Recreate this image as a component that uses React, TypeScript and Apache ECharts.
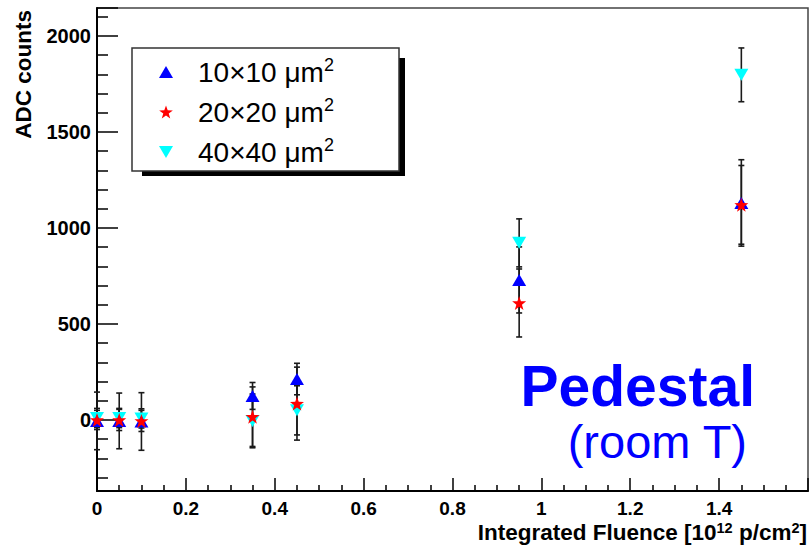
import React, { useEffect, useRef } from "react";
import * as echarts from "echarts";

const fluence = [0, 0.05, 0.1, 0.35, 0.45, 0.95, 1.45];
const adc10 = [-5, -5, -8, 125, 213, 729, 1130];
const err10 = [150, 145, 150, 70, 82, 172, 225];
const adc20 = [0, 0, -5, 17, 85, 609, 1120];
const err20 = [50, 55, 55, 155, 190, 177, 205];
const adc40 = [10, 10, 8, -5, 50, 922, 1797];
const err40 = [50, 50, 50, 140, 128, 125, 140];

const seriesNames = ["10x10", "20x20", "40x40"];
const legendLabels = ["10×10 μm{sup|2}", "20×20 μm{sup|2}", "40×40 μm{sup|2}"];
const xTitle = "Integrated Fluence [10{sup|12} p/cm{sup|2}]";
const yTitle = "ADC counts";
const noteMain = "Pedestal";
const noteSub = "(room T)";

const FONT = "'Liberation Sans', Arial, Helvetica, sans-serif";
const TRI_UP = "path://M50,0L100,86L0,86Z";
const TRI_DOWN = "path://M0,0L100,0L50,86Z";
const STAR =
  "path://M50,0L61.8,33.8L97.6,34.5L69,56.2L79.4,90.5L50,70L20.6,90.5L31,56.2L2.4,34.5L38.2,33.8Z";

function pts(xs: number[], ys: number[]) {
  return xs.map((x, i) => [x, ys[i]]);
}
function errPts(xs: number[], ys: number[], es: number[]) {
  return xs.map((x, i) => [x, ys[i], es[i]]);
}

function errSeries(name: string, data: number[][]) {
  return {
    type: "custom",
    name,
    z: 1,
    encode: { x: 0, y: 1 },
    data,
    renderItem: (params: any, api: any) => {
      const x = api.value(0);
      const y = api.value(1);
      const e = api.value(2);
      const t = api.coord([x, y + e]);
      const b = api.coord([x, y - e]);
      const st = { stroke: "#1a1a1a", lineWidth: 1.6 };
      const cw = 3;
      return {
        type: "group",
        children: [
          { type: "line", shape: { x1: t[0], y1: t[1], x2: b[0], y2: b[1] }, style: st },
          { type: "line", shape: { x1: t[0] - cw, y1: t[1], x2: t[0] + cw, y2: t[1] }, style: st },
          { type: "line", shape: { x1: b[0] - cw, y1: b[1], x2: b[0] + cw, y2: b[1] }, style: st },
        ],
      };
    },
  };
}

export default function App() {
  const ref = useRef<HTMLDivElement>(null);
  useEffect(() => {
    document.body.style.margin = "0";
    const chart = echarts.init(ref.current!, null, { renderer: "svg" });
    const labelMap: Record<string, string> = {};
    seriesNames.forEach((n, i) => (labelMap[n] = legendLabels[i]));
    const tickStyle = { color: "#000", width: 1.5 };
    const option: any = {
      animation: false,
      grid: {
        left: 97,
        right: 4,
        top: 8,
        bottom: 56,
        show: true,
        borderColor: "#444",
        borderWidth: 1.5,
      },
      xAxis: {
        type: "value",
        min: 0,
        max: 1.6,
        interval: 0.2,
        axisLine: { onZero: false, lineStyle: { color: "#000", width: 2 } },
        axisTick: { inside: true, length: 13, lineStyle: tickStyle },
        minorTick: { show: true, splitNumber: 4, length: 6, lineStyle: tickStyle },
        splitLine: { show: false },
        minorSplitLine: { show: false },
        axisLabel: {
          showMaxLabel: false,
          color: "#000",
          fontSize: 19,
          lineHeight: 16,
          fontWeight: "bold",
          fontFamily: FONT,
          margin: 9,
        },
      },
      yAxis: {
        type: "value",
        min: -370,
        max: 2145,
        splitNumber: 5,
        axisLine: { onZero: false, lineStyle: { color: "#000", width: 2 } },
        axisTick: { inside: true, length: 21, lineStyle: tickStyle },
        minorTick: { show: true, splitNumber: 5, length: 11, lineStyle: tickStyle },
        splitLine: { show: false },
        minorSplitLine: { show: false },
        axisLabel: {
          showMinLabel: false,
          showMaxLabel: false,
          formatter: (v: number) => (v % 500 === 0 ? String(v) : ""),
          color: "#000",
          fontSize: 20,
          fontWeight: "bold",
          fontFamily: FONT,
          margin: 6,
        },
      },
      legend: {
        data: seriesNames,
        orient: "vertical",
        left: 159,
        top: 56,
        padding: 0,
        itemWidth: 14,
        itemHeight: 13,
        itemGap: 8,
        selectedMode: false,
        formatter: (n: string) => labelMap[n],
        textStyle: {
          color: "#000",
          fontSize: 28,
          fontFamily: FONT,
          lineHeight: 32,
          padding: [0, 0, 0, 20],
          rich: {
            sup: { fontSize: 18, fontFamily: FONT, color: "#000", verticalAlign: "top", lineHeight: 18 },
          },
        },
      },
      graphic: [
        { type: "rect", z: 1, shape: { x: 142, y: 58, width: 263, height: 118 }, style: { fill: "#000" } },
        {
          type: "rect",
          z: 1,
          shape: { x: 132, y: 48, width: 267, height: 123 },
          style: { fill: "#fff", stroke: "#333", lineWidth: 1.5 },
        },
        {
          type: "text",
          z: 5,
          x: 755,
          y: 386,
          style: {
            text: noteMain,
            fill: "#0000ff",
            font: `bold 57px ${FONT}`,
            textAlign: "right",
            textVerticalAlign: "middle",
          },
        },
        {
          type: "text",
          z: 5,
          x: 747,
          y: 441,
          style: {
            text: noteSub,
            fill: "#0000ff",
            font: `47px ${FONT}`,
            textAlign: "right",
            textVerticalAlign: "middle",
          },
        },
        {
          type: "text",
          z: 5,
          x: 23,
          y: 10,
          rotation: Math.PI / 2,
          style: {
            text: yTitle,
            fill: "#000",
            font: `bold 22.5px ${FONT}`,
            textAlign: "right",
            textVerticalAlign: "middle",
          },
        },
        {
          type: "text",
          z: 5,
          x: 807,
          y: 532,
          style: {
            text: xTitle,
            fill: "#000",
            font: `bold 22.5px ${FONT}`,
            textAlign: "right",
            textVerticalAlign: "middle",
            rich: {
              sup: { font: `bold 14.5px ${FONT}`, fill: "#000", verticalAlign: "top" },
            },
          },
        },
      ],
      series: [
        errSeries("e40", errPts(fluence, adc40, err40)),
        errSeries("e10", errPts(fluence, adc10, err10)),
        errSeries("e20", errPts(fluence, adc20, err20)),
        {
          type: "scatter",
          name: "40x40",
          z: 2,
          symbol: TRI_DOWN,
          symbolSize: [14, 12],
          itemStyle: { color: "#00ffff", opacity: 1 },
          data: pts(fluence, adc40),
        },
        {
          type: "scatter",
          name: "10x10",
          z: 3,
          symbol: TRI_UP,
          symbolSize: [14, 12],
          itemStyle: { color: "#0000ff", opacity: 1 },
          data: pts(fluence, adc10),
        },
        {
          type: "scatter",
          name: "20x20",
          z: 4,
          symbol: STAR,
          symbolSize: [14, 14],
          itemStyle: { color: "#ff0000", opacity: 1 },
          data: pts(fluence, adc20),
        },
      ],
    };
    chart.setOption(option);
    return () => chart.dispose();
  }, []);
  return <div ref={ref} style={{ width: 812, height: 547, background: "#fff" }} />;
}
